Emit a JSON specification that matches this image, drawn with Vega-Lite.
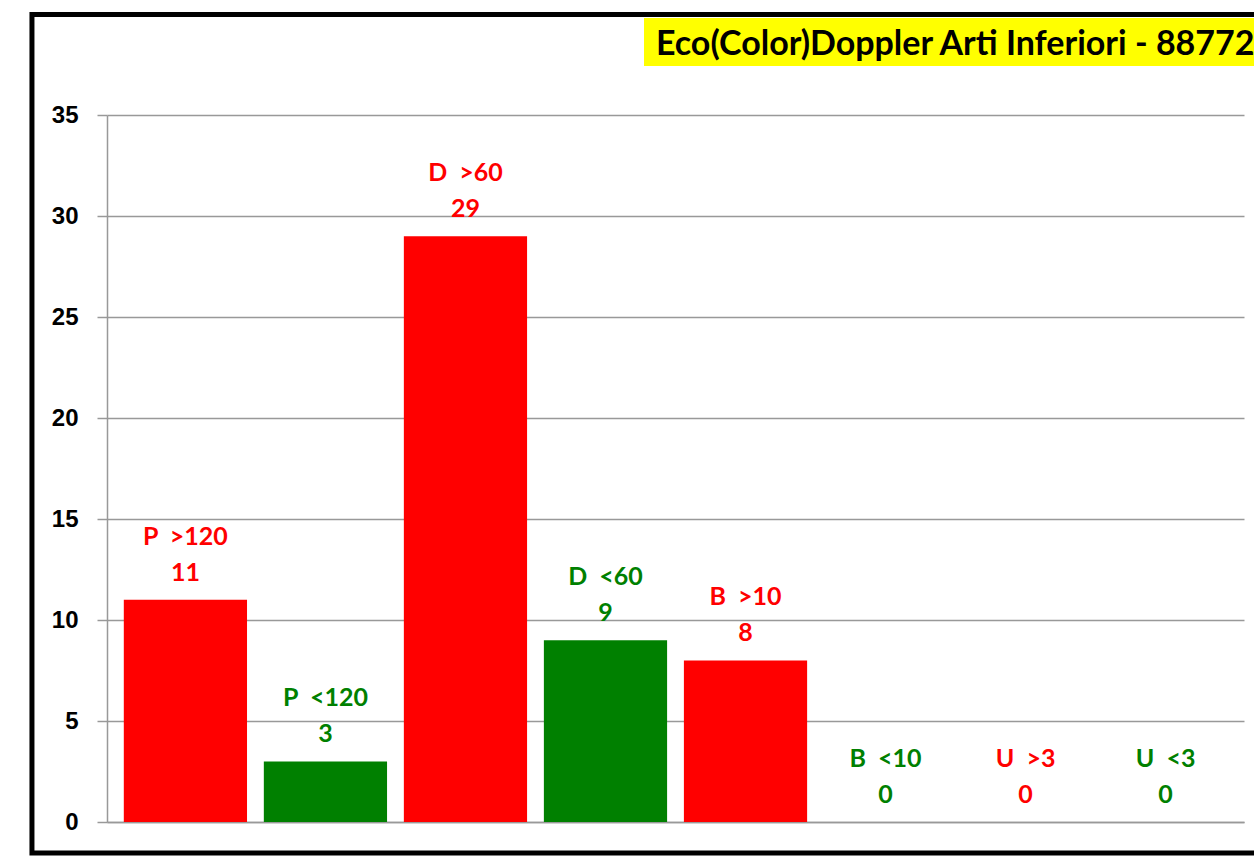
{
  "$schema": "https://vega.github.io/schema/vega-lite/v6.json",
  "autosize": "none",
  "width": 1137,
  "height": 707,
  "padding": {"left": 107, "top": 115, "right": 10, "bottom": 36},
  "background": "white",
  "config": {"view": {"stroke": null}},
  "datasets": {
    "bars": [
      {"cat": "P\u00a0\u00a0>120", "val": 11, "grp": "sopra"},
      {"cat": "P\u00a0\u00a0<120", "val": 3, "grp": "sotto"},
      {"cat": "D\u00a0\u00a0>60", "val": 29, "grp": "sopra"},
      {"cat": "D\u00a0\u00a0<60", "val": 9, "grp": "sotto"},
      {"cat": "B\u00a0\u00a0>10", "val": 8, "grp": "sopra"},
      {"cat": "B\u00a0\u00a0<10", "val": 0, "grp": "sotto"},
      {"cat": "U\u00a0\u00a0>3", "val": 0, "grp": "sopra"},
      {"cat": "U\u00a0\u00a0<3", "val": 0, "grp": "sotto"}
    ],
    "deco": [
      {"title": "Eco(Color)Doppler Arti Inferiori - 88772", "bx": 0.4723, "bx2": 1.02, "by": 37.43, "by2": 39.8, "tx": 0.4828, "ty": 37.97, "fx": -0.066, "fx2": 1.03, "fy": -1.53, "fy2": 39.97}
    ]
  },
  "layer": [
    {
      "data": {"name": "bars"},
      "encoding": {
        "x": {"field": "cat", "type": "nominal", "sort": null,
              "scale": {"paddingInner": 0.12, "paddingOuter": 0.12},
              "axis": {"title": null, "labels": false, "ticks": false, "domainColor": "#999999", "domainWidth": 1.5, "grid": false}},
        "y": {"field": "val", "type": "quantitative",
              "scale": {"domain": [0, 35], "nice": false},
              "axis": {"title": null, "values": [0, 5, 10, 15, 20, 25, 30, 35],
                       "labelFont": "Liberation Sans", "labelFontWeight": "bold", "labelFontSize": 24, "labelColor": "black",
                       "tickColor": "#999999", "tickSize": 10, "tickWidth": 1.5, "labelPadding": 19,
                       "domainColor": "#999999", "domainWidth": 1.5,
                       "grid": true, "gridColor": "#999999", "gridWidth": 1.5}},
        "color": {"field": "grp", "type": "nominal",
                  "scale": {"domain": ["sopra", "sotto"], "range": ["#FF0000", "#008000"]},
                  "legend": null}
      },
      "layer": [
        {"mark": {"type": "bar"}},
        {"mark": {"type": "text", "font": "Lato", "fontWeight": "bold", "fontSize": 25, "baseline": "alphabetic", "align": "center", "dy": -19},
         "encoding": {"text": {"field": "val", "type": "quantitative"}}},
        {"mark": {"type": "text", "font": "Lato", "fontWeight": "bold", "fontSize": 25, "baseline": "alphabetic", "align": "center", "dy": -55},
         "encoding": {"text": {"field": "cat", "type": "nominal"}}}
      ]
    },
    {
      "data": {"name": "deco"},
      "layer": [
        {"mark": {"type": "rect", "fill": "#FFFF00"},
         "encoding": {
           "x": {"field": "bx", "type": "quantitative", "scale": {"domain": [0, 1]}, "axis": null},
           "x2": {"field": "bx2"},
           "y": {"field": "by", "type": "quantitative"},
           "y2": {"field": "by2"}
         }},
        {"mark": {"type": "text", "font": "Lato", "fontWeight": "bold", "fontSize": 34, "align": "left", "baseline": "alphabetic", "color": "black"},
         "encoding": {
           "x": {"field": "tx", "type": "quantitative", "scale": {"domain": [0, 1]}, "axis": null},
           "y": {"field": "ty", "type": "quantitative"},
           "text": {"field": "title", "type": "nominal"}
         }},
        {"mark": {"type": "rect", "filled": false, "stroke": "black", "strokeWidth": 5},
         "encoding": {
           "x": {"field": "fx", "type": "quantitative", "scale": {"domain": [0, 1]}, "axis": null},
           "x2": {"field": "fx2"},
           "y": {"field": "fy", "type": "quantitative"},
           "y2": {"field": "fy2"}
         }}
      ]
    }
  ],
  "resolve": {"scale": {"x": "independent", "color": "independent"}}
}
